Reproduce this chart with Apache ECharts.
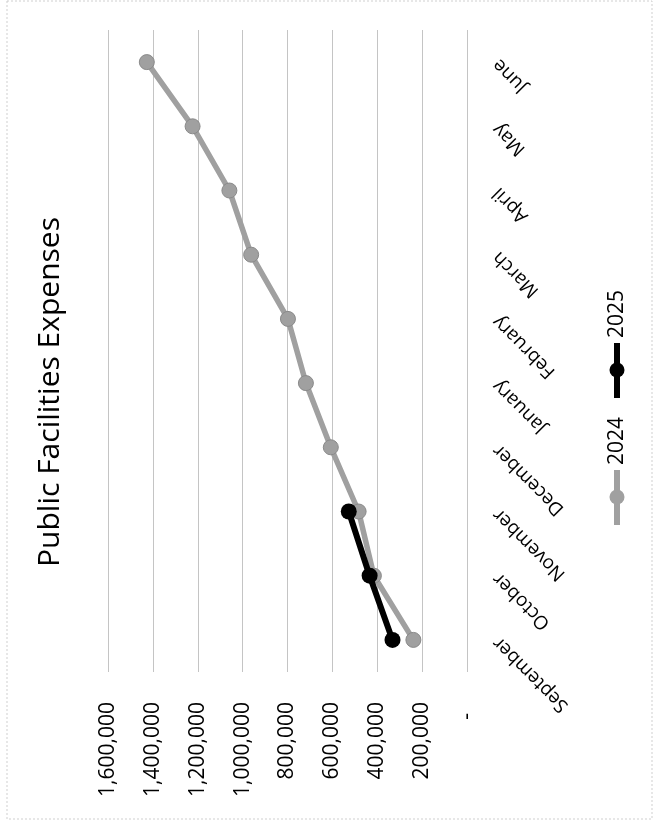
<!DOCTYPE html>
<html>
<head>
<meta charset="utf-8">
<script src="https://cdn.jsdelivr.net/npm/echarts@6/dist/echarts.min.js"></script>
<style>html,body{margin:0;padding:0;background:#fff}#c{width:655px;height:825px}</style>
</head>
<body>
<div id="c"></div>
<script>
var titleText = 'Public Facilities Expenses';
var categories = ['September','October','November','December','January','February','March','April','May','June'];
var seriesNames = ['2024','2025'];
var values2024 = [239000, 415000, 483000, 607000, 718000, 798000, 962000, 1059000, 1223000, 1427000];
var values2025 = [332000, 434000, 527000];
var valueMin = 0, valueMax = 1600000, valueStep = 200000;

var FONT = 'Open Sans';
var GRAY = '#a0a0a0';
var chart = echarts.init(document.getElementById('c'));

function fmt(v){
  if (v === 0) return '-  ';
  return String(v).replace(/\B(?=(\d{3})+(?!\d))/g, ',');
}

function legendItem(i, yTop, color){
  return [
    {type:'line', shape:{x1:617,y1:yTop+5,x2:617,y2:yTop+60}, style:{stroke:color,lineWidth:6}},
    {type:'circle', shape:{cx:617,cy:yTop+32,r:7.5}, style:{fill:color}},
    {type:'text', x:617, y:yTop, rotation:Math.PI/2,
     style:{text:seriesNames[i], font:'21px "'+FONT+'"', fill:'#000', align:'left', verticalAlign:'middle'}}
  ];
}

var graphics = [
  {type:'rect', shape:{x:7,y:1,width:645,height:818}, style:{fill:'none',stroke:'#cfcfcf',lineWidth:1,lineDash:[2,2]}, silent:true},
  {type:'text', x:50, y:392, rotation:Math.PI/2,
   style:{text:titleText, font:'30px "'+FONT+'"', fill:'#000', align:'center', verticalAlign:'middle'}}
].concat(legendItem(0, 465, GRAY)).concat(legendItem(1, 338, '#000'));

chart.setOption({
  animation:false,
  backgroundColor:'#fff',
  grid:{left:108, right:188, top:30, bottom:153},
  xAxis:{
    type:'value', inverse:true, min:valueMin, max:valueMax, interval:valueStep,
    position:'bottom',
    axisLine:{show:false}, axisTick:{show:false},
    axisLabel:{rotate:90, margin:30, formatter:fmt, color:'#000', fontFamily:FONT, fontSize:21},
    splitLine:{show:true, lineStyle:{color:'#c4c4c4', width:1, type:'solid'}}
  },
  yAxis:{
    type:'category', data:categories, position:'right', boundaryGap:true,
    axisLine:{show:false}, axisTick:{show:false},
    axisLabel:{rotate:135, margin:29, align:'right', verticalAlign:'middle', color:'#000', fontFamily:FONT, fontSize:19},
    splitLine:{show:false}
  },
  series:[
    {name:seriesNames[0], type:'line', data:values2024, symbol:'circle', symbolSize:15,
     lineStyle:{color:GRAY, width:5.5}, itemStyle:{color:GRAY, borderColor:'#8a8a8a', borderWidth:1}, z:2},
    {name:seriesNames[1], type:'line', data:values2025, symbol:'circle', symbolSize:16,
     lineStyle:{color:'#000', width:6}, itemStyle:{color:'#000'}, z:3}
  ],
  graphic:graphics
});
</script>
</body>
</html>
